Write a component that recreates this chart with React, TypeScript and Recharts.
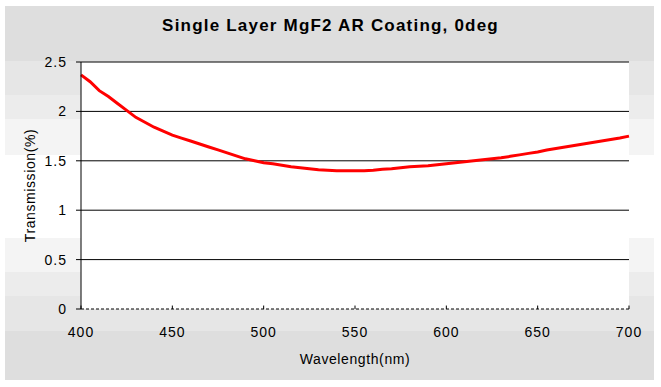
import React from 'react';
import { LineChart, Line, XAxis, YAxis, CartesianGrid, ReferenceLine } from 'recharts';

// wavelength (nm) and transmission values
const wavelengths = [
  400, 405, 410, 415, 420, 425, 430, 435, 440, 445, 450, 455, 460, 465, 470, 475, 480, 485, 490, 495,
  500, 505, 510, 515, 520, 525, 530, 535, 540, 545, 550, 555, 560, 565, 570, 575, 580, 585, 590, 595,
  600, 605, 610, 615, 620, 625, 630, 635, 640, 645, 650, 655, 660, 665, 670, 675, 680, 685, 690, 695, 700,
];
const transmission = [
  2.37, 2.3, 2.21, 2.15, 2.08, 2.01, 1.94, 1.89, 1.84, 1.8, 1.76, 1.73, 1.7, 1.67, 1.64, 1.61, 1.58, 1.55, 1.52, 1.5,
  1.48, 1.47, 1.455, 1.44, 1.43, 1.42, 1.41, 1.405, 1.4, 1.4, 1.4, 1.4, 1.405, 1.415, 1.42, 1.43, 1.44, 1.445, 1.45, 1.46,
  1.47, 1.48, 1.49, 1.5, 1.51, 1.52, 1.53, 1.545, 1.56, 1.575, 1.59, 1.61, 1.625, 1.64, 1.655, 1.67, 1.685, 1.7, 1.715, 1.73, 1.75,
];
const xTicks = [400, 450, 500, 550, 600, 650, 700];
const yTicks = [0, 0.5, 1, 1.5, 2, 2.5];
const gridValues = [0.5, 1, 1.5, 2, 2.5];

const data = wavelengths.map((w, i) => ({ w, t: transmission[i] }));

const FONT = '"Liberation Sans", Arial, sans-serif';

// stepped gray bands of the chart background
const BG =
  'linear-gradient(to bottom, #dedede 0px 55px, #e6e6e6 55px 89px, #ececec 89px 113px, #f4f4f4 113px 149px, ' +
  '#ffffff 149px 232px, #f4f4f4 232px 266px, #ececec 266px 290px, #e6e6e6 290px 325px, #dedede 325px 374px)';

const tickStyle = { fill: '#000', fontSize: 14, fontFamily: FONT, letterSpacing: 1 };

export default function App() {
  return (
    <div style={{ position: 'absolute', left: 0, top: 0, width: 661, height: 387, background: '#fff', fontFamily: FONT }}>
      <div style={{ position: 'absolute', left: 5, top: 6, width: 649, height: 374, background: BG }} />
      <div
        style={{
          position: 'absolute',
          left: 0,
          top: 16,
          width: 661,
          textAlign: 'center',
          fontSize: 17,
          fontWeight: 'bold',
          letterSpacing: 1.2,
          color: '#000',
          lineHeight: '20px',
        }}
      >
        Single Layer MgF2 AR Coating, 0deg
      </div>
      <div style={{ position: 'absolute', left: 0, top: 0 }}>
        <LineChart width={661} height={387} data={data} margin={{ top: 62, right: 32, bottom: 18, left: 21 }}>
          <CartesianGrid fill="#fff" vertical={false} horizontalValues={gridValues} stroke="#000" strokeOpacity={1} />
          <XAxis
            dataKey="w"
            type="number"
            domain={[400, 700]}
            ticks={xTicks}
            height={60}
            axisLine={{ stroke: '#000', strokeDasharray: '3 2' }}
            tickLine={false}
            tickSize={0}
            tickMargin={18}
            tick={tickStyle}
            label={{ value: 'Wavelength(nm)', position: 'insideBottom', offset: 5, fill: '#000', fontSize: 14, fontFamily: FONT, letterSpacing: 0.6 }}
          />
          <YAxis
            type="number"
            domain={[0, 2.5]}
            ticks={yTicks}
            width={60}
            axisLine={{ stroke: '#000' }}
            tickLine={{ stroke: '#000' }}
            tickSize={5}
            tickMargin={9}
            tick={tickStyle}
            label={{ value: 'Transmission(%)', angle: -90, position: 'center', dx: -21, fill: '#000', fontSize: 14, fontFamily: FONT, letterSpacing: 0.6 }}
          />
          {xTicks.map((v) => (
            <ReferenceLine key={v} segment={[{ x: v, y: 0 }, { x: v, y: 0.035 }]} stroke="#000" ifOverflow="visible" />
          ))}
          <Line type="linear" dataKey="t" stroke="#ff0000" strokeWidth={3} dot={false} isAnimationActive={false} />
        </LineChart>
      </div>
    </div>
  );
}
